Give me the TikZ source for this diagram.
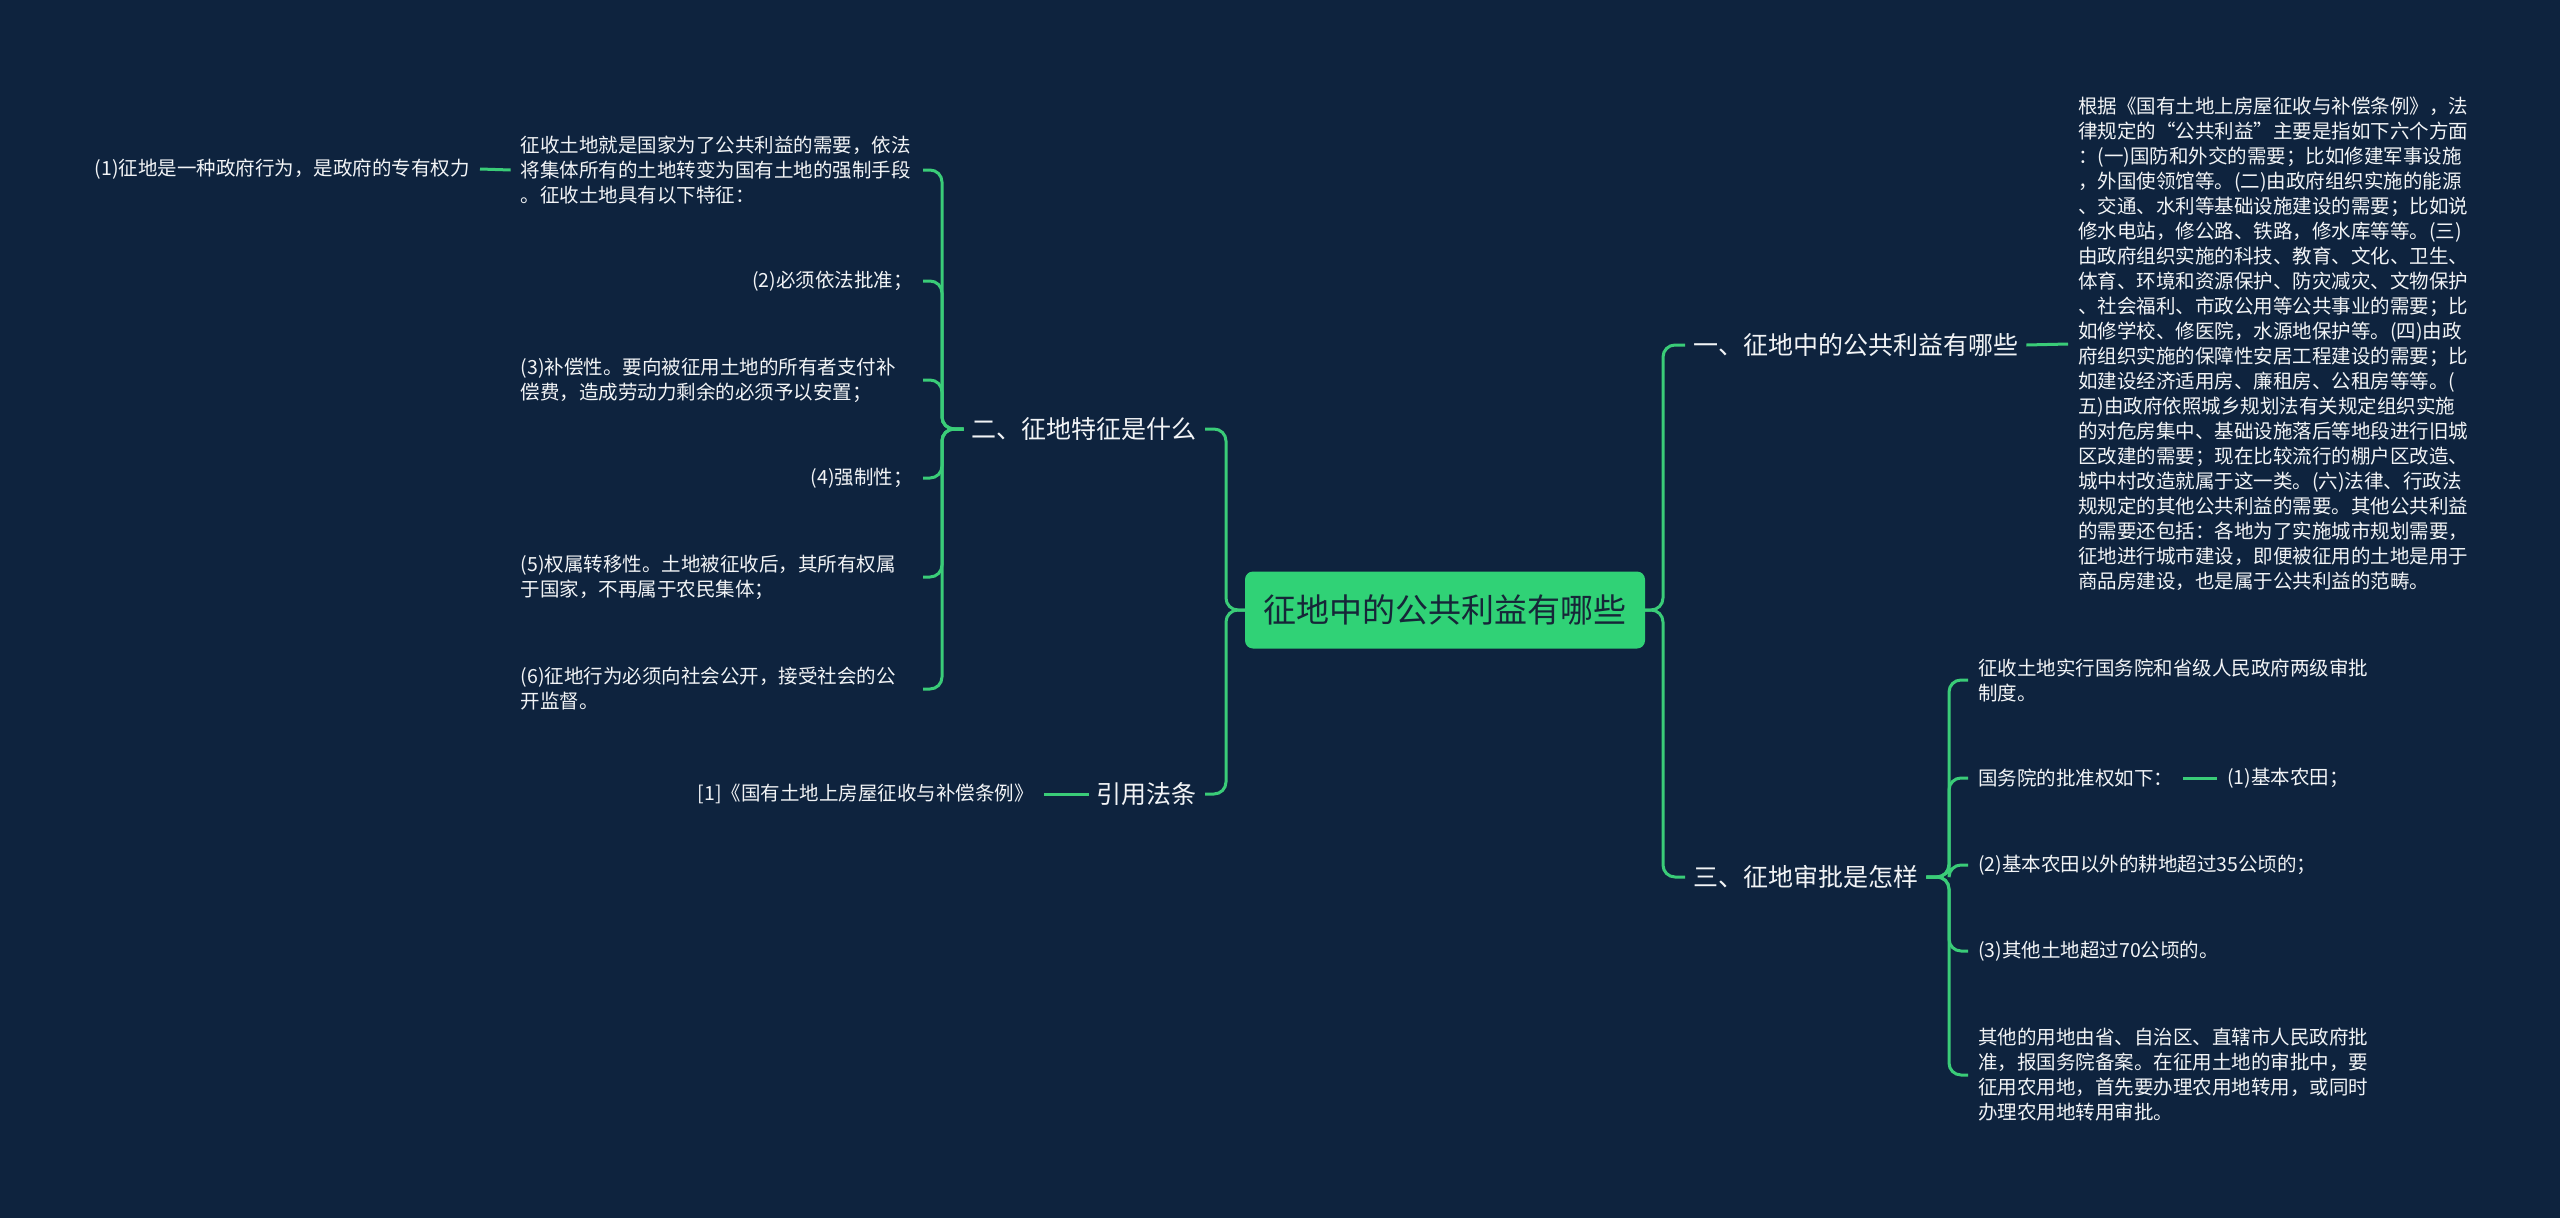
\documentclass[tikz,border=0pt]{standalone}
\usepackage{fontspec}
\setmainfont{Noto Sans CJK SC}
\definecolor{bg}{RGB}{14,35,62}
\definecolor{lgreen}{RGB}{58,204,120}
\definecolor{cfill}{RGB}{48,210,118}
\definecolor{ctext}{RGB}{22,38,56}
\definecolor{wtext}{RGB}{242,244,246}
\begin{document}
\begin{tikzpicture}[x=1pt,y=-1pt,
  conn/.style={draw=lgreen, line width=3pt, rounded corners=12pt},
  centerbox/.style={fill=cfill, rounded corners=8pt, text=ctext, font=\fontsize{33}{38}\selectfont, minimum width=400pt, minimum height=77pt, inner sep=0pt},
  lone/.style={text=wtext, font=\fontsize{25}{30}\selectfont, inner xsep=8pt, inner ysep=4pt},
  leaf/.style={text=wtext, font=\fontsize{19.5}{25}\selectfont, inner xsep=10pt, inner ysep=3pt},
  para/.style={leaf, text width=392pt, align=left}
]
\fill[bg] (0,0) rectangle (2560,1218);
\useasboundingbox (0,0) rectangle (2560,1218);

% center
\node[centerbox] (c) at (1445,610) {征地中的公共利益有哪些};

% level 1
\node[lone, anchor=west] (n1) at (1685,345) {一、征地中的公共利益有哪些};
\node[lone, anchor=east] (n2) at (1205,429) {二、征地特征是什么};
\node[lone, anchor=east] (n3) at (1205,794) {引用法条};
\node[lone, anchor=west] (n4) at (1685,877) {三、征地审批是怎样};

% left: 二 children
\node[para, anchor=east] (a1) at (923,170) {征收土地就是国家为了公共利益的需要，依法\\将集体所有的土地转变为国有土地的强制手段\\。征收土地具有以下特征：};
\node[leaf, anchor=east] (a2) at (923,281) {(2)必须依法批准；};
\node[para, anchor=east] (a3) at (923,380) {(3)补偿性。要向被征用土地的所有者支付补\\偿费，造成劳动力剩余的必须予以安置；};
\node[leaf, anchor=east] (a4) at (923,478) {(4)强制性；};
\node[para, anchor=east] (a5) at (923,577) {(5)权属转移性。土地被征收后，其所有权属\\于国家，不再属于农民集体；};
\node[para, anchor=east] (a6) at (923,689) {(6)征地行为必须向社会公开，接受社会的公\\开监督。};
\node[leaf, anchor=east] (p1) at (480,169) {(1)征地是一种政府行为，是政府的专有权力};

% 引用法条 child
\node[leaf, anchor=east] (r1) at (1044,794) {[1]《国有土地上房屋征收与补偿条例》};

% right: 一 child
\node[para, anchor=west] (q1) at (2068,344) {根据《国有土地上房屋征收与补偿条例》，法\\律规定的“公共利益”主要是指如下六个方面\\：(一)国防和外交的需要；比如修建军事设施\\，外国使领馆等。(二)由政府组织实施的能源\\、交通、水利等基础设施建设的需要；比如说\\修水电站，修公路、铁路，修水库等等。(三)\\由政府组织实施的科技、教育、文化、卫生、\\体育、环境和资源保护、防灾减灾、文物保护\\、社会福利、市政公用等公共事业的需要；比\\如修学校、修医院，水源地保护等。(四)由政\\府组织实施的保障性安居工程建设的需要；比\\如建设经济适用房、廉租房、公租房等等。(\\五)由政府依照城乡规划法有关规定组织实施\\的对危房集中、基础设施落后等地段进行旧城\\区改建的需要；现在比较流行的棚户区改造、\\城中村改造就属于这一类。(六)法律、行政法\\规规定的其他公共利益的需要。其他公共利益\\的需要还包括：各地为了实施城市规划需要，\\征地进行城市建设，即便被征用的土地是用于\\商品房建设，也是属于公共利益的范畴。};

% right: 三 children
\node[para, anchor=west] (b1) at (1968,680) {征收土地实行国务院和省级人民政府两级审批\\制度。};
\node[leaf, anchor=west] (b2) at (1968,778) {国务院的批准权如下：};
\node[leaf, anchor=west] (b2a) at (2217,778) {(1)基本农田；};
\node[leaf, anchor=west] (b3) at (1968,865) {(2)基本农田以外的耕地超过35公顷的；};
\node[leaf, anchor=west] (b4) at (1968,951) {(3)其他土地超过70公顷的。};
\node[para, anchor=west] (b5) at (1968,1075) {其他的用地由省、自治区、直辖市人民政府批\\准，报国务院备案。在征用土地的审批中，要\\征用农用地，首先要办理农用地转用，或同时\\办理农用地转用审批。};

% connectors from center
\draw[conn] (c.east) -- (1663,610) |- (n1.west);
\draw[conn] (c.east) -- (1663,610) |- (n4.west);
\draw[conn] (c.west) -- (1226,610) |- (n2.east);
\draw[conn] (c.west) -- (1226,610) |- (n3.east);

% 二 bracket
\foreach \t in {a1,a2,a3,a4,a5,a6}
  \draw[conn] (n2.west) -- (942,429) |- (\t.east);
\draw[conn] (a1.west) -- (p1.east);

% 引用法条
\draw[conn] (n3.west) -- (r1.east);

% 一 -> paragraph
\draw[conn] (n1.east) -- (q1.west);

% 三 bracket
\foreach \t in {b1,b2,b3,b4,b5}
  \draw[conn] (n4.east) -- (1949,877) |- (\t.west);
\draw[conn] (b2.east) -- (b2a.west);
\end{tikzpicture}
\end{document}
